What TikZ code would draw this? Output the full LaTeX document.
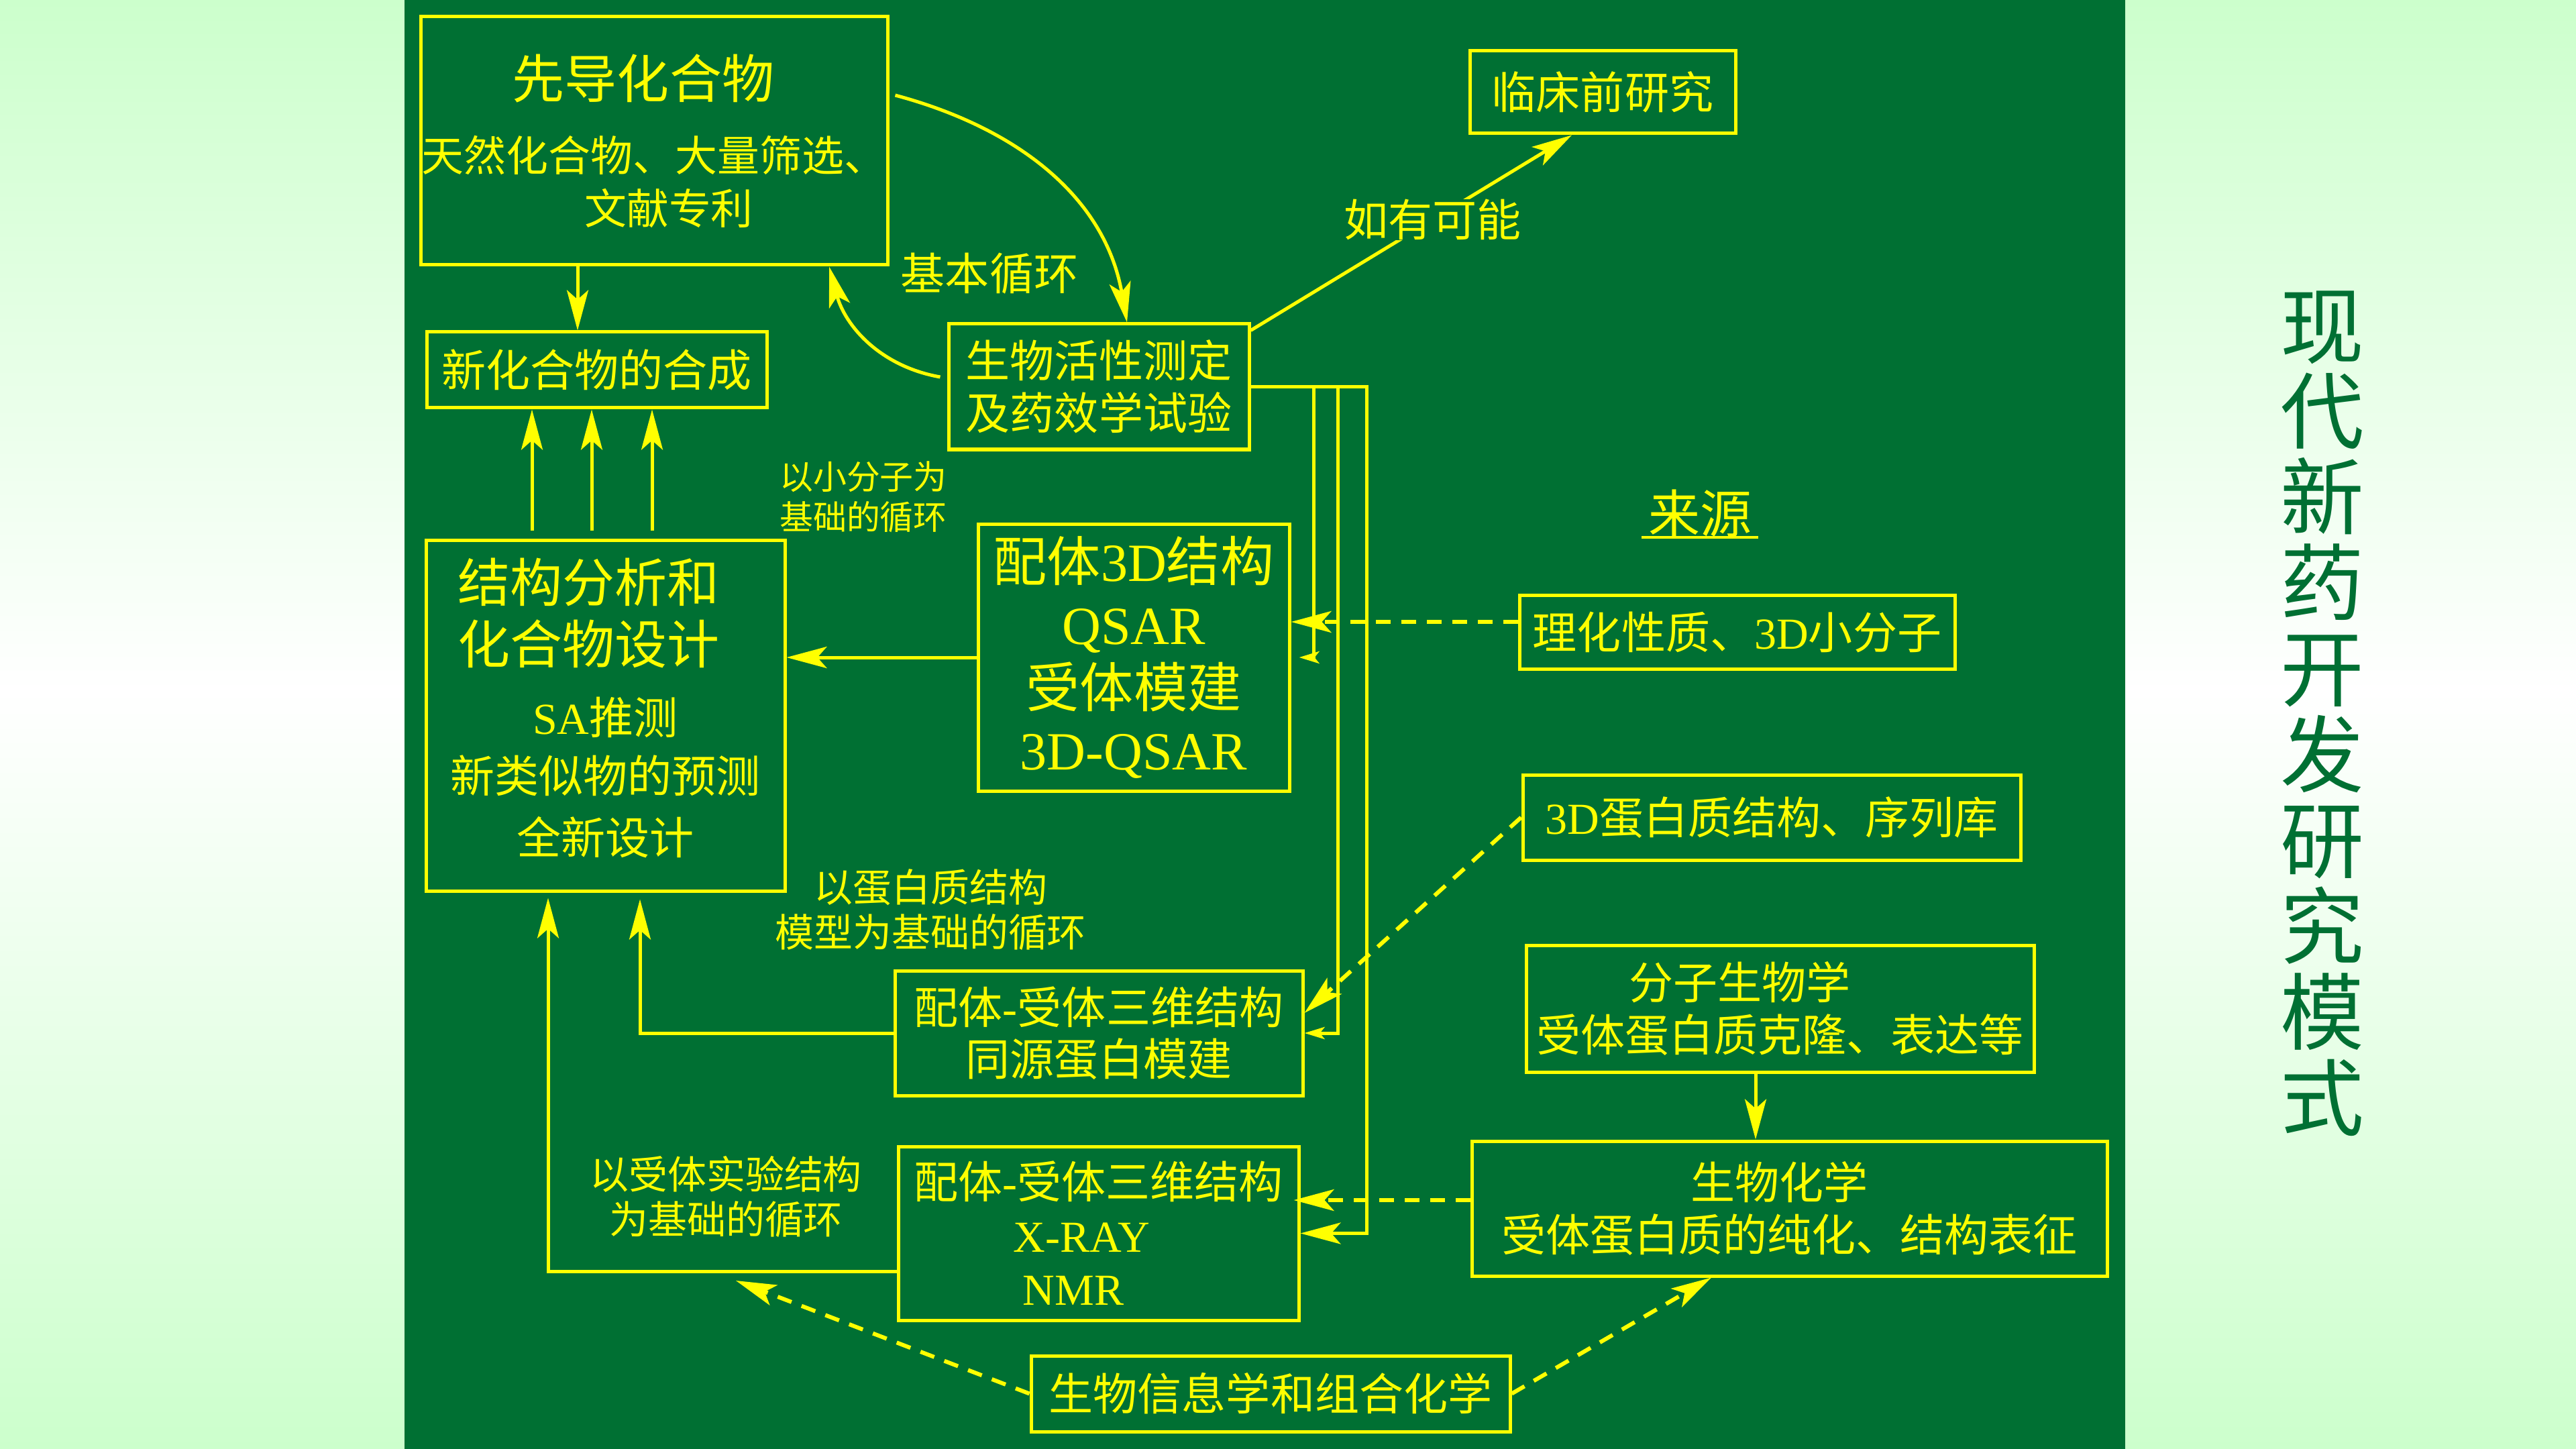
\documentclass[tikz,border=0pt]{standalone}
\usepackage{fontspec}
\setmainfont{Noto Sans CJK SC}
\newfontfamily\tnr{Liberation Serif}
\newcommand\latn[1]{{\tnr #1}}
\newcommand\padr[1]{\rule{#1}{0pt}}
\usepackage{tikz}
\usetikzlibrary{arrows.meta}
\definecolor{panel}{RGB}{0,112,51}
\definecolor{yel}{RGB}{255,255,0}
\definecolor{paleg}{RGB}{204,255,204}

\begin{document}
\begin{tikzpicture}[
		box/.style={draw=yel,line width=0.05cm,text=yel,inner sep=0pt,align=center,
			font=\fontsize{18.8pt}{22.2pt}\selectfont},
		lab/.style={text=yel,inner sep=0pt,align=center,font=\fontsize{18.8pt}{22.2pt}\selectfont},
		arr/.style={draw=yel,line width=0.05cm,-{Stealth[length=0.6cm,width=0.32cm,inset=0.14cm]}},
		sarr/.style={draw=yel,line width=0.05cm,-{Stealth[length=0.3cm,width=0.18cm,inset=0.07cm]}},
		darr/.style={arr,line width=0.06cm,dash pattern=on 0.22cm off 0.16cm}]
		\useasboundingbox (0,0) rectangle (38.4,-21.6);
		\shade[top color=paleg,bottom color=white] (0,0) rectangle (38.4,-10.3);
		\shade[top color=white,bottom color=paleg] (0,-10.3) rectangle (38.4,-21.6);
		\fill[panel] (6.03,0) rectangle (31.68,-21.6);
		% boxes
		\node[box,minimum width=6.96cm,minimum height=3.70cm,font=\fontsize{17.9pt}{22.5pt}\selectfont] (lead) at (9.75,-2.10)
		{{\fontsize{22.2pt}{22.5pt}\selectfont 先导化合物}\padr{0.32cm}\\[8.5pt]天然化合物、大量筛选、\\\padr{0.44cm}文献专利};
		\node[box,minimum width=5.07cm,minimum height=1.13cm] (synth) at (8.895,-5.515) {新化合物的合成};
		\node[box,minimum width=4.48cm,minimum height=1.87cm] (bio) at (16.38,-5.765) {生物活性测定\\及药效学试验};
		\node[box,minimum width=3.96cm,minimum height=1.23cm] (preclin) at (23.89,-1.375) {临床前研究};
		\node[box,minimum width=5.35cm,minimum height=5.23cm,text depth=8pt,font=\fontsize{18.8pt}{26.2pt}\selectfont] (design) at (9.025,-10.665)
		{{\fontsize{22.2pt}{26.2pt}\selectfont 结构分析和}\padr{0.5cm}\\%
			{\fontsize{22.2pt}{26.2pt}\selectfont 化合物设计}\padr{0.5cm}\\[3.7pt]%
			\latn{SA}推测\\[-1.4pt]新类似物的预测\\全新设计};
		\node[box,minimum width=4.64cm,minimum height=3.98cm,font=\fontsize{22.8pt}{26.7pt}\selectfont] (qsar) at (16.90,-9.80)
		{配体\latn{3D}结构\\\latn{QSAR}\\受体模建\\\latn{3D-QSAR}};
		\node[box,minimum width=6.08cm,minimum height=1.86cm,font=\fontsize{18.8pt}{21.9pt}\selectfont] (homol) at (16.38,-15.40)
		{配体\latn{-}受体三维结构\\同源蛋白模建};
		\node[box,minimum width=5.97cm,minimum height=2.59cm,font=\fontsize{18.8pt}{22.6pt}\selectfont] (xray) at (16.375,-18.385)
		{配体\latn{-}受体三维结构\\\latn{X-RAY}\padr{0.5cm}\\\latn{NMR}\padr{0.75cm}};
		\node[box,minimum width=6.49cm,minimum height=1.10cm] (physchem) at (25.895,-9.42) {理化性质、\latn{3D}小分子};
		\node[box,minimum width=7.42cm,minimum height=1.27cm] (protein) at (26.41,-12.185) {\latn{3D}蛋白质结构、序列库};
		\node[box,minimum width=7.57cm,minimum height=1.89cm] (molbio) at (26.535,-15.035) {分子生物学\padr{1.2cm}\\受体蛋白质克隆、表达等};
		\node[box,minimum width=9.47cm,minimum height=2.01cm] (biochem) at (26.675,-18.015) {生物化学\padr{0.3cm}\\受体蛋白质的纯化、结构表征};
		\node[box,minimum width=7.14cm,minimum height=1.13cm] (bioinfo) at (18.94,-20.775) {生物信息学和组合化学};
		% labels
		\node[lab] (basic) at (14.75,-4.08) {基本循环};
		\node[lab,font=\fontsize{14.2pt}{17.1pt}\selectfont] (smallmol) at (12.87,-7.41) {以小分子为\\基础的循环};
		\node[lab,font=\fontsize{16.5pt}{19.3pt}\selectfont] (protlab) at (13.87,-13.56) {以蛋白质结构\\模型为基础的循环};
		\node[lab,font=\fontsize{16.5pt}{19.3pt}\selectfont] (exptlab) at (10.82,-17.84) {以受体实验结构\\为基础的循环};
		\node[lab,font=\fontsize{21.9pt}{22pt}\selectfont,inner xsep=0.09cm] (src) at (25.34,-7.65) {来源};
		\draw[yel,line width=0.04cm] (src.south west) -- (src.south east);
		\node[text=panel,align=center,inner sep=0pt,font=\fontsize{35.5pt}{36.4pt}\selectfont] (ttl) at (34.62,-10.635)
		{现\\代\\新\\药\\开\\发\\研\\究\\模\\式};
		% basic cycle
		\draw[arr] ([xshift=-1.14cm]lead.south) -- ([xshift=-1.14cm]lead.south |- synth.north);
		\draw[arr] ([xshift=0.09cm,yshift=0.68cm]lead.east) to[out=-15,in=100] ([xshift=0.42cm]bio.north);
		\draw[arr] ([xshift=-0.1cm,yshift=0.145cm]bio.west) to[out=170,in=-75] ([xshift=2.61cm]lead.south);
		\draw[arr] ([yshift=-0.12cm]bio.north east) -- node[lab,fill=panel,pos=0.567] (maybe) {如有可能} ([xshift=-0.46cm]preclin.south);
		\foreach \dx in {-1.095,-0.205,0.695}
		\draw[arr,shorten <=0.12cm] ([xshift=\dx cm]design.north) -- ([xshift=\dx cm]design.north |- synth.south);
		\draw[arr] (qsar.west) -- (qsar.west -| design.east);
		% lines out of the bioassay box
		\coordinate (busL) at (19.58,-5.80);
		\coordinate (busM) at (19.94,-5.80);
		\coordinate (busR) at (20.37,-5.72);
		\draw[arr] (bio.east) -- (bio.east -| busR) |- (xray.east);
		\draw[sarr] (bio.east -| busM) |- (homol.east);
		\draw[sarr] (bio.east -| busL) |- ([xshift=0.12cm]qsar.east);
		% sources
		\draw[darr] ([yshift=0.15cm]physchem.west) -- ([yshift=0.15cm]physchem.west -| qsar.east);
		\draw[darr] (protein.west) -- ([yshift=0.3cm]homol.east);
		\draw[arr] ([xshift=-0.365cm]molbio.south) -- ([xshift=-0.365cm]molbio.south |- biochem.north);
		\draw[darr,shorten >=-0.1cm] ([yshift=0.125cm]biochem.west) -- ([yshift=0.125cm]biochem.west -| xray.east);
		\draw[arr,shorten >=0.08cm] ([yshift=-0.565cm]xray.west) -| ([xshift=-0.855cm]design.south);
		\draw[arr,shorten >=0.1cm] (homol.west) -| ([xshift=0.515cm]design.south);
		\coordinate (exptend) at (10.97,-19.09);
		\draw[darr] (bioinfo.west) -- (exptend);
		\draw[darr] (bioinfo.east) -- ([xshift=-1.165cm]biochem.south);
\end{tikzpicture}
\end{document}
